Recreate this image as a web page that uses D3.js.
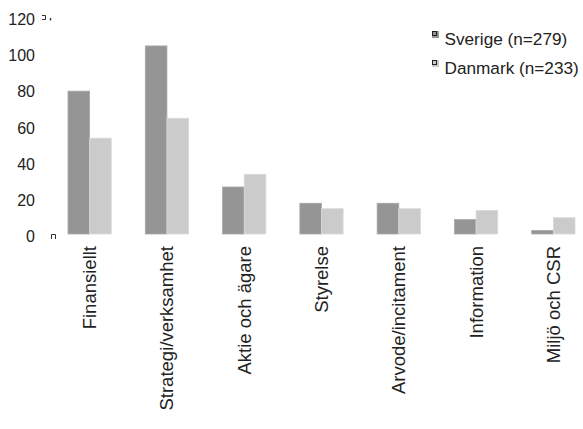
<!DOCTYPE html>
<html lang="sv">
<head>
  <meta charset="UTF-8">
  <title>Sverige vs Danmark</title>
  <script src="https://d3js.org/d3.v7.min.js"></script>
  <style>
    body { margin: 0; background: #fff; font-family: "Liberation Sans", Arial, sans-serif; }
    text { fill: #222; }
  </style>
</head>
<body>
  <svg id="viz" width="583" height="429"></svg>

  <script>
    const categories = ["Finansiellt", "Strategi/verksamhet", "Aktie och ägare", "Styrelse",
                        "Arvode/incitament", "Information", "Miljö och CSR"];
    const seriesNames = ["Sverige (n=279)", "Danmark (n=233)"];
    const sverige = [79, 104, 26, 17, 17, 8, 2];
    const danmark = [53, 64, 33, 14, 14, 13, 9];
    const yTicks = [0, 20, 40, 60, 80, 100, 120];
    const colors = ["#959595", "#cbcbcb"];

    const svg = d3.select("#viz");
    const margin = { top: 17, left: 51, bottom: 234 };
    const plotRight = 592;

    const x0 = d3.scaleBand()
      .domain(categories)
      .range([margin.left, plotRight])
      .paddingInner(0.44)
      .paddingOuter(0.22);

    const x1 = d3.scaleBand()
      .domain([0, 1])
      .range([0, x0.bandwidth()]);

    const y = d3.scaleLinear()
      .domain([0, 120])
      .range([margin.bottom, margin.top]);

    // y tick labels only (no axis line)
    svg.selectAll(".ytick")
      .data(yTicks)
      .enter()
      .append("text")
      .attr("x", 35)
      .attr("y", d => y(d) + 2.5)
      .attr("dy", "0.35em")
      .attr("text-anchor", "end")
      .style("font-size", "16px")
      .text(d => d);

    // little leftover glyphs near the axis ends
    svg.append("path")
      .attr("d", "M42,15.5 H45.5 V19.5 H42")
      .attr("fill", "none").attr("stroke", "#333").attr("stroke-width", 1);
    svg.append("path")
      .attr("d", "M50.5,18 V20.5")
      .attr("fill", "none").attr("stroke", "#333").attr("stroke-width", 1.4);
    svg.append("path")
      .attr("d", "M51.5,239 V234.5 H55.5 V239")
      .attr("fill", "none").attr("stroke", "#333").attr("stroke-width", 1);

    const rows = categories.map((c, i) => ({ cat: c, vals: [sverige[i], danmark[i]] }));

    const groups = svg.selectAll(".grp")
      .data(rows)
      .enter()
      .append("g")
      .attr("transform", d => `translate(${x0(d.cat)},0)`);

    groups.selectAll("rect")
      .data(d => d.vals)
      .enter()
      .append("rect")
      .attr("x", (_, i) => x1(i))
      .attr("y", d => y(d))
      .attr("width", x1.bandwidth())
      .attr("height", d => y(0) - y(d))
      .attr("fill", (_, i) => colors[i])
      .attr("stroke", (_, i) => i === 0 ? "#a9a9a9" : "#dadada")
      .attr("stroke-width", 0.8);

    // rotated category labels
    svg.selectAll(".xlab")
      .data(categories)
      .enter()
      .append("text")
      .attr("transform", d => `translate(${x0(d) + x0.bandwidth() / 2 + 6.5},246) rotate(-90)`)
      .attr("text-anchor", "end")
      .style("font-size", "18.5px")
      .text(d => d);

    // legend
    const legend = svg.selectAll(".leg")
      .data(seriesNames)
      .enter()
      .append("g")
      .attr("transform", (_, i) => `translate(432,${31 + i * 29})`);

    legend.append("rect")
      .attr("x", 0).attr("y", 0).attr("width", 7).attr("height", 7)
      .attr("fill", (_, i) => colors[i]);
    legend.append("rect")
      .attr("x", 0.5).attr("y", 0.5).attr("width", 4).attr("height", 4)
      .attr("fill", "none").attr("stroke", "#222").attr("stroke-width", 1);
    legend.append("text")
      .attr("x", 12.5)
      .attr("y", 8)
      .attr("dy", "0.35em")
      .style("font-size", "17.2px")
      .text(d => d);
  </script>
</body>
</html>
